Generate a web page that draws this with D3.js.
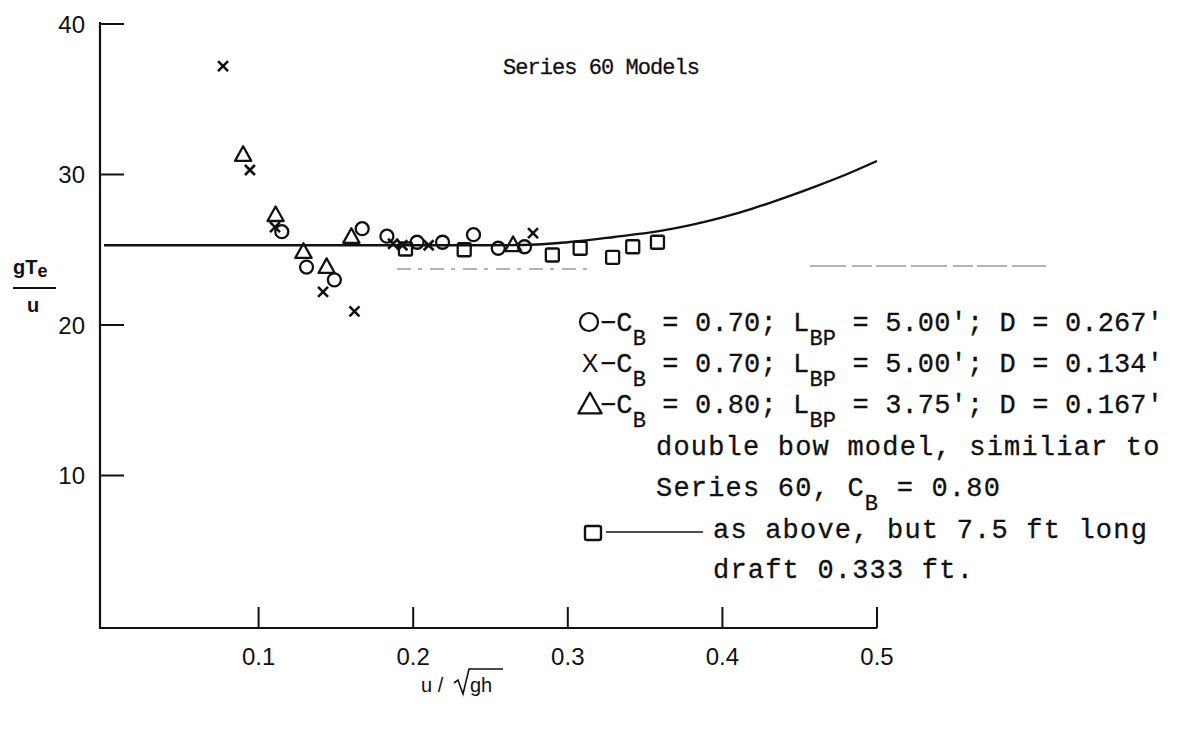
<!DOCTYPE html>
<html>
<head>
<meta charset="utf-8">
<script src="https://cdn.jsdelivr.net/npm/d3@7"></script>
<style>
  html, body { margin: 0; padding: 0; background: #fff; }
  svg { display: block; }
</style>
</head>
<body>
<svg id="chart" width="1189" height="729"></svg>
<script>
// Axis ticks
const xTicks = [0.1, 0.2, 0.3, 0.4, 0.5];
const yTicks = [10, 20, 30, 40];

// C_B = 0.70; L_BP = 5.00'; D = 0.267'  (circles)
const circleX = [0.115, 0.131, 0.149, 0.167, 0.183, 0.2025, 0.219, 0.239, 0.255, 0.272];
const circleY = [26.2, 23.85, 23.0, 26.4, 25.9, 25.5, 25.5, 26.0, 25.1, 25.2];

// C_B = 0.70; L_BP = 5.00'; D = 0.134'  (crosses)
const crossX = [0.077, 0.0944, 0.1106, 0.1417, 0.162, 0.187, 0.193, 0.21, 0.2775];
const crossY = [37.2, 30.3, 26.5, 22.2, 20.9, 25.4, 25.3, 25.3, 26.1];

// C_B = 0.80; L_BP = 3.75'; D = 0.167'  (triangles)
const triX = [0.090, 0.111, 0.129, 0.144, 0.160, 0.2646];
const triY = [31.3, 27.3, 24.85, 23.85, 25.85, 25.3];

// double bow model, 7.5 ft long, draft 0.333 ft  (squares)
const squareX = [0.195, 0.233, 0.29, 0.308, 0.329, 0.342, 0.358];
const squareY = [25.05, 25.0, 24.65, 25.1, 24.5, 25.2, 25.5];

// faired curve
const curveX = [0.0, 0.1, 0.2, 0.25, 0.28, 0.3, 0.33, 0.36, 0.38, 0.4, 0.42, 0.44, 0.46, 0.48, 0.5];
const curveY = [25.3, 25.3, 25.3, 25.3, 25.35, 25.5, 25.85, 26.25, 26.65, 27.15, 27.75, 28.45, 29.2, 30.0, 30.9];

const svg = d3.select("#chart");
const ink = "#111";

const x = d3.scaleLinear().domain([0, 0.5]).range([104, 877]);
const y = d3.scaleLinear().domain([0, 40]).range([626, 24]);

const axisLeftX = 100, axisBottomY = 628;

// axes frame
svg.append("path")
  .attr("d", `M${axisLeftX},${y(40) - 2} L${axisLeftX},${axisBottomY} L${x(0.5)},${axisBottomY}`)
  .attr("fill", "none").attr("stroke", ink).attr("stroke-width", 2.2);

// y ticks (inward)
svg.append("g").selectAll("line").data(yTicks).join("line")
  .attr("x1", axisLeftX).attr("x2", axisLeftX + 24)
  .attr("y1", d => y(d)).attr("y2", d => y(d))
  .attr("stroke", ink).attr("stroke-width", 2);
svg.append("g").selectAll("text").data(yTicks).join("text")
  .attr("x", 85).attr("y", d => y(d))
  .attr("text-anchor", "end").attr("dominant-baseline", "central")
  .attr("font-family", "Liberation Sans, Arial, sans-serif").attr("font-size", 24)
  .attr("fill", ink)
  .text(d => d3.format("d")(d));

// x ticks (inward)
svg.append("g").selectAll("line").data(xTicks).join("line")
  .attr("x1", d => x(d)).attr("x2", d => x(d))
  .attr("y1", axisBottomY).attr("y2", axisBottomY - 21)
  .attr("stroke", ink).attr("stroke-width", 2);
svg.append("g").selectAll("text").data(xTicks).join("text")
  .attr("x", d => x(d)).attr("y", 656)
  .attr("text-anchor", "middle").attr("dominant-baseline", "central")
  .attr("font-family", "Liberation Sans, Arial, sans-serif").attr("font-size", 24)
  .attr("fill", ink)
  .text(d => d3.format(".1f")(d));

// y-axis title gT_e / u
const yt = svg.append("g").attr("font-family", "Liberation Sans, Arial, sans-serif")
  .attr("font-weight", "bold").attr("fill", ink);
const ytText = yt.append("text").attr("x", 13).attr("y", 274).attr("font-size", 20);
ytText.append("tspan").text("gT");
ytText.append("tspan").attr("dy", 3).attr("font-size", 18).text("e");
yt.append("line").attr("x1", 13).attr("x2", 56).attr("y1", 288).attr("y2", 288)
  .attr("stroke", ink).attr("stroke-width", 2.2);
yt.append("text").attr("x", 33).attr("y", 312).attr("font-size", 20)
  .attr("text-anchor", "middle").text("u");

// x-axis title u / sqrt(gh)
const xt = svg.append("g").attr("font-family", "Liberation Sans, Arial, sans-serif")
  .attr("fill", ink).attr("font-size", 20);
xt.append("text").attr("x", 421).attr("y", 692).text("u /");
xt.append("path")
  .attr("d", "M454,683 L458,680 L463,694 L469,669 L503,669")
  .attr("fill", "none").attr("stroke", ink).attr("stroke-width", 1.6);
xt.append("text").attr("x", 470).attr("y", 692).text("gh");

// faint broken rules in the legend area
svg.append("line").attr("x1", 397).attr("x2", 592).attr("y1", 269).attr("y2", 269)
  .attr("stroke", "#9a9a9a").attr("stroke-width", 1.3).attr("stroke-dasharray", "14,7,4,8");
svg.append("line").attr("x1", 810).attr("x2", 1046).attr("y1", 266).attr("y2", 266)
  .attr("stroke", "#666").attr("stroke-width", 1.2).attr("stroke-dasharray", "36,6,20,4,30,5");

// curve
const line = d3.line().x(d => x(d[0])).y(d => y(d[1])).curve(d3.curveMonotoneX);
svg.append("path").datum(d3.zip(curveX, curveY))
  .attr("d", line).attr("fill", "none").attr("stroke", ink).attr("stroke-width", 2.4);

// markers
const sw = 2.3;
svg.append("g").selectAll("circle").data(d3.zip(circleX, circleY)).join("circle")
  .attr("cx", d => x(d[0])).attr("cy", d => y(d[1])).attr("r", 6.5)
  .attr("fill", "none").attr("stroke", ink).attr("stroke-width", sw);

const triPath = s => `M0,${-s * 0.62} L${s * 0.58},${s * 0.42} L${-s * 0.58},${s * 0.42} Z`;
svg.append("g").selectAll("path").data(d3.zip(triX, triY)).join("path")
  .attr("transform", d => `translate(${x(d[0])},${y(d[1])})`)
  .attr("d", triPath(14))
  .attr("fill", "none").attr("stroke", ink).attr("stroke-width", sw).attr("stroke-linejoin", "round");

svg.append("g").selectAll("rect").data(d3.zip(squareX, squareY)).join("rect")
  .attr("x", d => x(d[0]) - 6.5).attr("y", d => y(d[1]) - 6.5)
  .attr("width", 13).attr("height", 13).attr("rx", 1.5)
  .attr("fill", "none").attr("stroke", ink).attr("stroke-width", sw);

svg.append("g").selectAll("path").data(d3.zip(crossX, crossY)).join("path")
  .attr("transform", d => `translate(${x(d[0])},${y(d[1])})`)
  .attr("d", "M-5,-5 L5,5 M5,-5 L-5,5")
  .attr("fill", "none").attr("stroke", ink).attr("stroke-width", 2.6);

// typed annotations
const mono = "Liberation Mono, Courier New, monospace";

// spread a typed line so it runs from its x to the given right edge
function fitTo(t, rightEdge) {
  const node = t.node();
  const w = node.getComputedTextLength();
  const n = node.textContent.length;
  const left = +t.attr("x");
  const current = +(t.attr("letter-spacing") || 0);
  const ls = current + (rightEdge - left - w) / n;
  t.attr("letter-spacing", ls.toFixed(2));
  return t;
}

const title = svg.append("text").attr("x", 503).attr("y", 74)
  .attr("font-family", mono).attr("font-size", 22)
  .attr("fill", ink).attr("stroke", ink).attr("stroke-width", 0.3)
  .text("Series 60 Models");
fitTo(title, 699);

const legFont = 27, legSpacing = 1.2, subFont = 22;
function typedLine(xPos, yPos, parts, rightEdge) {
  const t = svg.append("text").attr("x", xPos).attr("y", yPos)
    .attr("font-family", mono).attr("font-size", legFont).attr("letter-spacing", legSpacing)
    .attr("fill", ink).attr("stroke", ink).attr("stroke-width", 0.3)
    .attr("xml:space", "preserve");
  let shifted = false;
  parts.forEach(p => {
    const sub = typeof p === "object";
    const s = sub ? p.sub : p;
    const ts = t.append("tspan").text(s);
    if (sub) ts.attr("font-size", subFont);
    if (sub && !shifted) { ts.attr("dy", 14); shifted = true; }
    else if (!sub && shifted) { ts.attr("dy", -14); shifted = false; }
  });
  if (rightEdge) fitTo(t, rightEdge);
  return t;
}

const legendRows = [
  { sym: "circle", y: 331, parts: ["\u2212C", { sub: "B" }, " = 0.70; L", { sub: "BP" }, " = 5.00'; D = 0.267'"] },
  { sym: "cross", y: 372, parts: ["\u2212C", { sub: "B" }, " = 0.70; L", { sub: "BP" }, " = 5.00'; D = 0.134'"] },
  { sym: "tri", y: 413, parts: ["\u2212C", { sub: "B" }, " = 0.80; L", { sub: "BP" }, " = 3.75'; D = 0.167'"] }
];
legendRows.forEach(r => {
  typedLine(600, r.y, r.parts, 1163);
  const cy = r.y - 9;
  if (r.sym === "circle") {
    svg.append("circle").attr("cx", 589).attr("cy", cy).attr("r", 9)
      .attr("fill", "none").attr("stroke", ink).attr("stroke-width", 2.2);
  } else if (r.sym === "cross") {
    svg.append("text").attr("x", 590).attr("y", cy).attr("text-anchor", "middle")
      .attr("dominant-baseline", "central").attr("font-family", "Liberation Sans, Arial, sans-serif")
      .attr("font-size", 25).attr("fill", ink).text("X");
  } else {
    svg.append("path").attr("transform", `translate(590,${cy + 1})`).attr("d", triPath(20))
      .attr("fill", "none").attr("stroke", ink).attr("stroke-width", 2.2).attr("stroke-linejoin", "round");
  }
});

typedLine(656, 455, ["double bow model, similiar to"]);
typedLine(656, 496, ["Series 60, C", { sub: "B" }, " = 0.80"]);
svg.append("rect").attr("x", 585).attr("y", 526).attr("width", 16).attr("height", 14).attr("rx", 2)
  .attr("fill", "none").attr("stroke", ink).attr("stroke-width", 2.4);
svg.append("line").attr("x1", 606).attr("x2", 703).attr("y1", 532).attr("y2", 532)
  .attr("stroke", ink).attr("stroke-width", 1.6);
typedLine(713, 538, ["as above, but 7.5 ft long"]);
typedLine(713, 578, ["draft 0.333 ft."]);
</script>
</body>
</html>
